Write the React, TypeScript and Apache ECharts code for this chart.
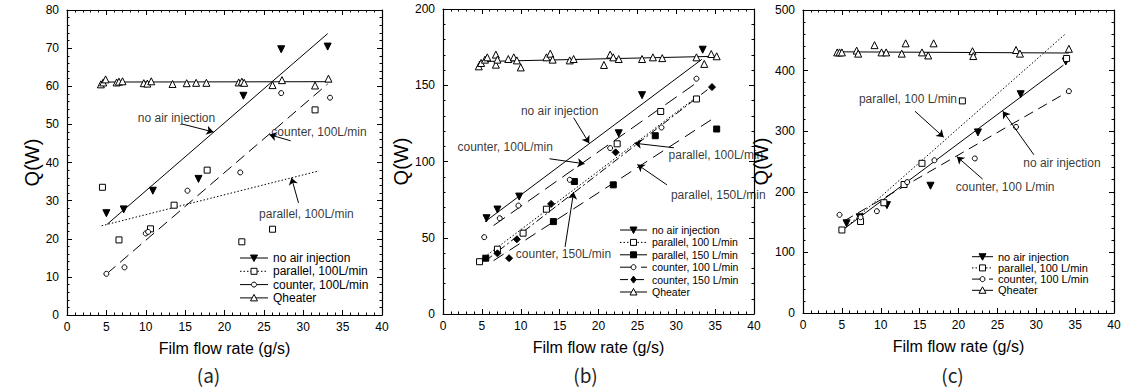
import React, { useEffect, useRef } from "react";
import * as echarts from "echarts";

// ---------------- Panel (a) ----------------
const A_NOAIR = [[5.0, 26.7], [7.2, 27.7], [10.9, 32.6], [16.7, 35.7], [22.4, 57.5], [27.2, 69.7], [33.1, 70.4]];
const A_PAR100 = [[4.5, 33.5], [6.6, 19.7], [10.6, 22.6], [13.6, 28.8], [17.8, 38.0], [22.2, 19.2], [26.1, 22.5], [31.5, 53.8]];
const A_CNT100 = [[5.0, 10.8], [7.3, 12.5], [10.0, 21.4], [10.3, 21.8], [15.3, 32.6], [22.0, 37.4], [27.2, 58.2], [33.4, 57.0]];
const A_QHEAT = [[4.3, 60.5], [4.6, 61.0], [4.9, 61.8], [6.3, 61.0], [6.6, 61.2], [7.05, 61.3], [9.75, 60.8], [10.2, 60.7], [10.7, 61.3], [13.4, 60.6], [15.2, 60.8], [16.4, 60.9], [17.7, 60.9], [21.8, 61.0], [22.2, 61.2], [22.5, 60.9], [26.1, 60.3], [27.3, 61.6], [31.5, 60.2], [33.2, 62.0]];
const A_FIT_NOAIR = [[5.1, 23.8], [33.1, 73.8]];
const A_FIT_PAR100 = [[4.4, 23.4], [32.0, 37.8]];
const A_FIT_CNT100 = [[5.1, 10.9], [33.1, 60.6]];
const A_FIT_QHEAT = [[4.3, 61.1], [33.6, 61.2]];
const A_NOTE_TEXT = ["no air injection", "counter, 100L/min", "parallel, 100L/min"];
const A_NOTE_AT = [[13.9, 51.7], [32.0, 48.0], [30.4, 26.5]];
const A_NOTE_FROM = [[14.6, 50.1], [28.4, 45.7], [29.4, 29.4]];
const A_NOTE_TO = [[18.6, 48.0], [25.7, 47.3], [28.5, 36.0]];

// ---------------- Panel (b) ----------------
const B_NOAIR = [[5.6, 62.8], [7.0, 68.5], [9.8, 77.0], [22.6, 118.5], [25.6, 143.5], [33.4, 173.3]];
const B_PAR100 = [[4.7, 34.3], [7.0, 42.5], [10.3, 53.0], [13.3, 68.7], [22.4, 111.6], [28.0, 132.8], [32.6, 141.0]];
const B_PAR150 = [[5.5, 36.6], [14.2, 60.6], [16.9, 86.9], [21.9, 84.7], [27.3, 116.9], [35.2, 121.3]];
const B_CNT100 = [[5.3, 50.4], [7.3, 62.8], [9.7, 71.1], [16.3, 88.0], [21.5, 108.8], [28.1, 122.3], [32.6, 154.3]];
const B_CNT150 = [[7.0, 39.8], [8.5, 36.6], [9.5, 49.0], [13.9, 72.2], [22.2, 106.0], [34.6, 148.8]];
const B_QHEAT = [[4.6, 162.4], [4.9, 164.6], [5.4, 166.8], [5.7, 168.3], [6.8, 170.1], [6.8, 163.5], [7.0, 166.8], [8.4, 167.2], [9.1, 168.3], [9.5, 166.3], [10.0, 161.7], [13.3, 168.3], [13.8, 170.7], [14.1, 166.8], [16.3, 166.3], [16.8, 167.2], [20.7, 163.3], [21.5, 170.1], [21.9, 168.3], [22.6, 167.2], [25.6, 167.2], [27.0, 168.3], [28.2, 167.8], [32.6, 168.3], [33.6, 164.0], [34.5, 170.5], [35.2, 169.0]];
const B_FIT_NOAIR = [[5.4, 60.5], [33.3, 167.0]];
const B_FIT_PAR100 = [[5.0, 36.0], [32.8, 143.0]];
const B_FIT_PAR150 = [[6.5, 35.0], [35.0, 129.0]];
const B_FIT_CNT100 = [[6.5, 58.0], [33.0, 153.0]];
const B_FIT_CNT150 = [[5.5, 35.0], [34.5, 149.0]];
const B_FIT_QHEAT = [[4.6, 165.5], [35.2, 169.0]];
const B_NOTE_TEXT = ["no air injection", "counter, 100L/min", "parallel, 100L/min", "parallel, 150L/min", "counter, 150L/min"];
const B_NOTE_AT = [[15.0, 133.3], [8.0, 109.7], [35.1, 104.4], [35.4, 78.2], [15.5, 39.4]];
const B_NOTE_FROM = [[16.8, 128.7], [13.7, 101.8], [29.7, 109.0], [28.8, 84.7], [15.7, 44.0]];
const B_NOTE_TO = [[18.8, 112.0], [18.2, 98.5], [24.6, 112.0], [25.0, 98.0], [16.8, 80.0]];

// ---------------- Panel (c) ----------------
const C_NOAIR = [[5.6, 148], [7.3, 158], [10.8, 178], [16.4, 210], [22.5, 298], [28.0, 361], [33.8, 415]];
const C_PAR100 = [[5.0, 137], [7.4, 151], [10.4, 182], [13.0, 212], [15.3, 247], [20.5, 350], [33.9, 420]];
const C_CNT100 = [[4.7, 162], [7.4, 158], [9.5, 168], [13.4, 216], [16.9, 252], [22.1, 255], [27.4, 307], [34.2, 366]];
const C_QHEAT = [[4.4, 430], [4.7, 430], [5.0, 430], [6.9, 433], [7.1, 428], [9.2, 442], [10.1, 430], [10.7, 430], [12.7, 428], [13.2, 445], [15.3, 430], [16.1, 425], [16.8, 445], [21.8, 432], [21.9, 424], [27.4, 434], [27.9, 428], [34.2, 436]];
const C_FIT_NOAIR = [[5.4, 140], [33.5, 409]];
const C_FIT_PAR100 = [[4.8, 133], [33.7, 460]];
const C_FIT_CNT100 = [[5.3, 152], [34.2, 366]];
const C_FIT_QHEAT = [[4.4, 431], [34.2, 429]];
const C_NOTE_TEXT = ["parallel, 100 L/min", "no air injection", "counter, 100 L/min"];
const C_NOTE_AT = [[13.5, 353], [33.3, 247.5], [26.0, 208]];
const C_NOTE_FROM = [[14.4, 333], [29.7, 261], [23.1, 221]];
const C_NOTE_TO = [[18.1, 290], [25.7, 333], [19.8, 258]];

// axis ticks
const X_MAX = 40, X_STEP = 5;
const Y_MAX = [80, 200, 500];
const Y_STEP = [10, 50, 100];
const CAPTIONS = ["(a)", "(b)", "(c)"];

// legend entries: [label, marker key, dash key]
const LEG_A = [["no air injection", "noair", "solid"], ["parallel, 100L/min", "par100", "dot"], ["counter, 100L/min", "cnt100", "dashA"], ["Qheater", "qheat", "solid"]];
const LEG_B = [["no air injection", "noair", "solid"], ["parallel, 100 L/min", "par100", "dot"], ["parallel, 150 L/min", "par150", "solid"], ["counter, 100 L/min", "cnt100", "dashB"], ["counter, 150 L/min", "cnt150", "dashdot"], ["Qheater", "qheat", "solid"]];
const LEG_C = [["no air injection", "noair", "solid"], ["parallel, 100 L/min", "par100", "dot"], ["counter, 100 L/min", "cnt100", "dashA"], ["Qheater", "qheat", "solid"]];

const K = "#000";
const FONT = "Liberation Sans, Arial, sans-serif";

const DASH: Record<string, any> = {
  solid: "solid",
  dot: [1.5, 2],
  dashA: [11, 6],
  dashB: [14, 7],
  dashP150: [12, 7],
  dashdot: [8, 3, 2, 3],
  dashC: [10, 6],
};

type Mk = { symbol: string; size: number; fill: string; rotate?: number };
const MK: Record<string, Mk> = {
  noair: { symbol: "triangle", size: 7, fill: K, rotate: 180 },
  par100: { symbol: "rect", size: 6, fill: "#fff" },
  par150: { symbol: "rect", size: 6, fill: K },
  cnt100: { symbol: "circle", size: 5, fill: "#fff" },
  cnt150: { symbol: "diamond", size: 7, fill: K },
  qheat: { symbol: "triangle", size: 7, fill: "#fff" },
};

function pts(g: number, data: number[][], mk: Mk): any {
  return {
    type: "scatter",
    name: "pts" + g + mk.symbol + mk.fill,
    xAxisIndex: 2 * g,
    yAxisIndex: 2 * g,
    data,
    symbol: mk.symbol,
    symbolSize: mk.size,
    symbolRotate: mk.rotate || 0,
    itemStyle: { color: mk.fill, borderColor: K, borderWidth: 1, opacity: 1 },
    silent: true,
    z: 3,
  };
}

function fit(g: number, name: string, data: number[][], dash: any): any {
  return {
    type: "line",
    name,
    xAxisIndex: 2 * g,
    yAxisIndex: 2 * g,
    data,
    showSymbol: false,
    symbol: "none",
    lineStyle: { color: K, width: 1, type: dash },
    silent: true,
    z: 2,
  };
}

function notes(g: number, text: string[], at: number[][], from: number[][], to: number[][], fs: number): any[] {
  return [
    {
      type: "lines",
      coordinateSystem: "cartesian2d",
      xAxisIndex: 2 * g,
      yAxisIndex: 2 * g,
      data: from.map((f, i) => ({ coords: [f, to[i]] })),
      symbol: ["none", "arrow"],
      symbolSize: 7,
      lineStyle: { color: K, width: 1, opacity: 1, curveness: 0 },
      silent: true,
      z: 4,
    },
    {
      type: "scatter",
      name: "notes" + g,
      xAxisIndex: 2 * g,
      yAxisIndex: 2 * g,
      data: at.map((p, i) => ({ value: p, name: text[i] })),
      symbolSize: 1,
      itemStyle: { color: "rgba(0,0,0,0)" },
      label: { show: true, position: "inside", formatter: "{b}", color: K, fontSize: fs, fontFamily: FONT },
      silent: true,
      z: 5,
    },
  ];
}

const GRIDS = [
  { left: 67, top: 10, width: 315, height: 305 },
  { left: 443, top: 9, width: 311, height: 305 },
  { left: 803, top: 10, width: 311, height: 303 },
];
const NAME_GAP_Y = [20, 23, 24];
const CAPTION_SHIFT = [-16, -13, -6];

// legend layout (box-level positions)
const LEG_BOX = [
  { x: 240, y: 258, pitch: 13.3, lineW: 28, fs: 12, entries: LEG_A },
  { x: 620, y: 230, pitch: 12.4, lineW: 27, fs: 10.5, entries: LEG_B },
  { x: 972, y: 256.7, pitch: 11.2, lineW: 21, fs: 11, entries: LEG_C },
];

function markerGraphic(key: string, cx: number, cy: number): any {
  const mk = MK[key];
  const style = { fill: mk.fill, stroke: K, lineWidth: 1 };
  const s = mk.size / 2;
  if (mk.symbol === "triangle") {
    const dir = mk.rotate ? 1 : -1;
    return { type: "polygon", shape: { points: [[cx - s, cy - dir * s * 0.85], [cx + s, cy - dir * s * 0.85], [cx, cy + dir * s]] }, style };
  }
  if (mk.symbol === "rect") return { type: "rect", shape: { x: cx - s, y: cy - s, width: 2 * s, height: 2 * s }, style };
  if (mk.symbol === "circle") return { type: "circle", shape: { cx, cy, r: s }, style };
  return { type: "polygon", shape: { points: [[cx, cy - s], [cx + s * 0.75, cy], [cx, cy + s], [cx - s * 0.75, cy]] }, style };
}

function legendGraphics(): any[] {
  const out: any[] = [];
  LEG_BOX.forEach((b) => {
    b.entries.forEach((e, i) => {
      const cy = b.y + i * b.pitch;
      const dash = DASH[e[2]];
      out.push({ type: "line", silent: true, z: 10, shape: { x1: b.x, y1: cy, x2: b.x + b.lineW, y2: cy }, style: { stroke: K, lineWidth: 1, lineDash: dash === "solid" ? null : dash } });
      out.push({ ...markerGraphic(e[1], b.x + b.lineW / 2, cy), silent: true, z: 11 });
      out.push({ type: "text", silent: true, z: 11, x: b.x + b.lineW + 5, y: cy, style: { text: e[0], align: "left", verticalAlign: "middle", fontSize: b.fs, fontFamily: FONT, fill: K } });
    });
  });
  return out;
}

function axisCommon(): any {
  return {
    type: "value",
    axisLine: { show: true, onZero: false, lineStyle: { color: K, width: 1.2 } },
    axisTick: { show: true, inside: true, length: 5, lineStyle: { color: K, width: 1 } },
    minorTick: { show: true, splitNumber: 5, length: 2.5, lineStyle: { color: K, width: 1 } },
    splitLine: { show: false },
    minorSplitLine: { show: false },
  };
}

export default function App() {
  const ref = useRef<HTMLDivElement>(null);
  useEffect(() => {
    if (!ref.current) return;
    const chart = echarts.init(ref.current, undefined, { renderer: "svg" });
    const xAxis: any[] = [];
    const yAxis: any[] = [];
    GRIDS.forEach((_, g) => {
      xAxis.push({
        ...axisCommon(), gridIndex: g, min: 0, max: X_MAX, interval: X_STEP, position: "bottom",
        axisLabel: { color: K, fontSize: 12, margin: 6, fontFamily: FONT },
        name: "Film flow rate (g/s)", nameLocation: "middle", nameGap: 25,
        nameTextStyle: { color: K, fontSize: 16, fontFamily: FONT },
      });
      xAxis.push({
        ...axisCommon(), gridIndex: g, min: 0, max: X_MAX, interval: X_STEP, position: "top",
        axisLabel: { show: false },
      });
      yAxis.push({
        ...axisCommon(), gridIndex: g, min: 0, max: Y_MAX[g], interval: Y_STEP[g], position: "left",
        axisLabel: { color: K, fontSize: 12, margin: 8, fontFamily: FONT },
        name: "Q(W)", nameLocation: "middle", nameGap: NAME_GAP_Y[g], nameRotate: 90,
        nameTextStyle: { color: K, fontSize: 20, fontFamily: FONT },
      });
      yAxis.push({
        ...axisCommon(), gridIndex: g, min: 0, max: Y_MAX[g], interval: Y_STEP[g], position: "right",
        axisLabel: { show: false },
      });
    });

    const series: any[] = [
      // (a)
      fit(0, "no air injection", A_FIT_NOAIR, DASH.solid),
      fit(0, "parallel, 100L/min", A_FIT_PAR100, DASH.dot),
      fit(0, "counter, 100L/min", A_FIT_CNT100, DASH.dashA),
      fit(0, "Qheater", A_FIT_QHEAT, DASH.solid),
      pts(0, A_NOAIR, MK.noair),
      pts(0, A_PAR100, MK.par100),
      pts(0, A_CNT100, MK.cnt100),
      pts(0, A_QHEAT, MK.qheat),
      ...notes(0, A_NOTE_TEXT, A_NOTE_AT, A_NOTE_FROM, A_NOTE_TO, 12),
      // (b)
      fit(1, "no air injection", B_FIT_NOAIR, DASH.solid),
      fit(1, "parallel, 100 L/min", B_FIT_PAR100, DASH.dot),
      fit(1, "parallel, 150 L/min", B_FIT_PAR150, DASH.dashP150),
      fit(1, "counter, 100 L/min", B_FIT_CNT100, DASH.dashB),
      fit(1, "counter, 150 L/min", B_FIT_CNT150, DASH.dashdot),
      fit(1, "Qheater", B_FIT_QHEAT, DASH.solid),
      pts(1, B_NOAIR, MK.noair),
      pts(1, B_PAR100, MK.par100),
      pts(1, B_PAR150, MK.par150),
      pts(1, B_CNT100, MK.cnt100),
      pts(1, B_CNT150, MK.cnt150),
      pts(1, B_QHEAT, MK.qheat),
      ...notes(1, B_NOTE_TEXT, B_NOTE_AT, B_NOTE_FROM, B_NOTE_TO, 12),
      // (c)
      fit(2, "no air injection", C_FIT_NOAIR, DASH.solid),
      fit(2, "parallel, 100 L/min", C_FIT_PAR100, DASH.dot),
      fit(2, "counter, 100 L/min", C_FIT_CNT100, DASH.dashC),
      fit(2, "Qheater", C_FIT_QHEAT, DASH.solid),
      pts(2, C_NOAIR, MK.noair),
      pts(2, C_PAR100, MK.par100),
      pts(2, C_CNT100, MK.cnt100),
      pts(2, C_QHEAT, MK.qheat),
      ...notes(2, C_NOTE_TEXT, C_NOTE_AT, C_NOTE_FROM, C_NOTE_TO, 12),
    ];

    const captions = GRIDS.map((g, i) => ({
      type: "text",
      silent: true,
      x: g.left + g.width / 2 + CAPTION_SHIFT[i],
      y: 374,
      style: { text: CAPTIONS[i], align: "center", verticalAlign: "middle", fontSize: 19, fontFamily: "Noto Sans CJK KR", fill: "#222" },
    }));

    chart.setOption({
      animation: false,
      backgroundColor: "#fff",
      textStyle: { fontFamily: FONT },
      grid: GRIDS.map((g) => ({ ...g, containLabel: false })),
      xAxis,
      yAxis,
      graphic: [...captions, ...legendGraphics()],
      series,
    });
    return () => chart.dispose();
  }, []);
  return <div ref={ref} style={{ position: "fixed", left: 0, top: 0, width: 1128, height: 390 }} />;
}
